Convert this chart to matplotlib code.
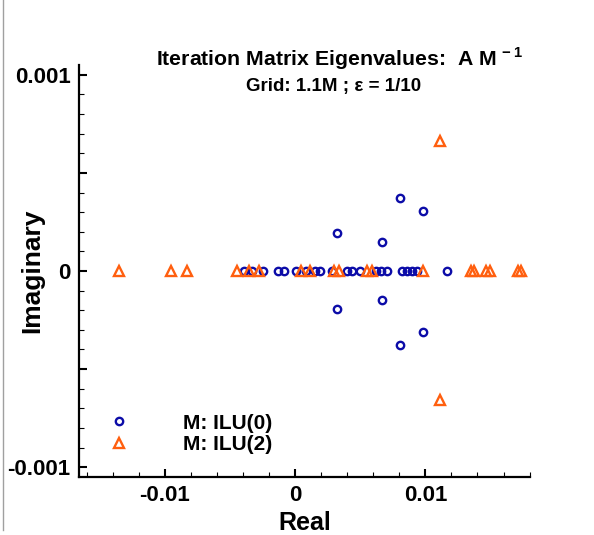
import matplotlib

matplotlib.use("Agg")
import matplotlib.pyplot as plt
from matplotlib.lines import Line2D
from matplotlib.ticker import FixedLocator, FuncFormatter, MultipleLocator

# eigenvalues of the iteration matrix
ilu0_real = [-0.00391, -0.00330, -0.00246, -0.00130, -0.00084, 0.00008, 0.00084,
             0.00154, 0.00192, 0.00284, 0.00399, 0.00437, 0.00499, 0.00622,
             0.00660, 0.00706, 0.00821, 0.00860, 0.00898, 0.00936, 0.01167,
             0.00322, 0.00322, 0.00665, 0.00665, 0.00806, 0.00806, 0.00985, 0.00985]
ilu0_imag = [0.0] * 21 + [0.000193, -0.000193, 0.000148, -0.000150,
                          0.000373, -0.000377, 0.000306, -0.000310]

ilu2_real = [-0.01351, -0.00952, -0.00829, -0.00445, -0.00353, -0.00276, 0.00046,
             0.00115, 0.00299, 0.00338, 0.00553, 0.00591, 0.00982, 0.01351,
             0.01374, 0.01466, 0.01497, 0.01711, 0.01734, 0.01113, 0.01113]
ilu2_imag = [0.0] * 19 + [0.000661, -0.000655]

series_labels = ["M: ILU(0)", "M: ILU(2)"]
x_ticks = [-0.01, 0.0, 0.01]
y_ticks = [-0.001, -0.0005, 0.0, 0.0005, 0.001]

BLUE = "#0C0CA8"
ORANGE = "#FF5F0F"
FONT = ["Liberation Sans", "DejaVu Sans"]

plt.rcParams["font.family"] = FONT
plt.rcParams["font.weight"] = "bold"
plt.rcParams["mathtext.fontset"] = "custom"
plt.rcParams["mathtext.rm"] = "Liberation Sans:bold"
plt.rcParams["mathtext.bf"] = "Liberation Sans:bold"

fig = plt.figure(figsize=(5.94, 5.35), dpi=100, facecolor="white")
ax = fig.add_axes([79 / 594, 1 - 477 / 535, 451 / 594, 412 / 535])

ax.plot(ilu0_real, ilu0_imag, linestyle="none", marker="o", markersize=5.3,
        markerfacecolor="none", markeredgecolor=BLUE, markeredgewidth=1.7, zorder=3)
ax.plot(ilu2_real, ilu2_imag, linestyle="none", marker="^", markersize=6.8,
        markerfacecolor="none", markeredgecolor=ORANGE, markeredgewidth=1.7, zorder=4)

ax.set_xlim(-0.01658, 0.01803)
ax.set_ylim(-0.00105, 0.00105)

for side in ("top", "right"):
    ax.spines[side].set_visible(False)
for side in ("left", "bottom"):
    ax.spines[side].set_linewidth(1.6)

ax.xaxis.set_major_locator(FixedLocator(x_ticks))
ax.xaxis.set_minor_locator(MultipleLocator(0.002))
ax.yaxis.set_major_locator(FixedLocator(y_ticks))
ax.yaxis.set_minor_locator(MultipleLocator(0.0001))


def fmt_x(v, pos):
    if abs(v) < 1e-12:
        return "0"
    return f"{v:g}"


def fmt_y(v, pos):
    if abs(v) < 1e-12:
        return "0"
    if abs(abs(v) - 0.001) < 1e-9:
        return f"{v:.3f}"
    return ""


ax.xaxis.set_major_formatter(FuncFormatter(fmt_x))
ax.yaxis.set_major_formatter(FuncFormatter(fmt_y))
ax.tick_params(which="major", direction="in", length=6, width=1.5, labelsize=16, pad=6)
ax.tick_params(which="minor", direction="in", length=3.5, width=0.8)
for lab in ax.get_xticklabels() + ax.get_yticklabels():
    lab.set_fontweight("bold")

ax.set_xlabel("Real", fontsize=18, fontweight="bold")
ax.set_ylabel("Imaginary", fontsize=19, fontweight="bold")
ax.xaxis.set_label_coords(0.5, -0.083)
ax.yaxis.set_label_coords(-0.078, 0.5)

fig.text(340 / 594, 1 - 59 / 535, r"Iteration Matrix Eigenvalues:  A M$^{\,-1}$",
         ha="center", va="center", fontsize=15.3, fontweight="bold")
fig.text(334 / 594, 1 - 87 / 535, "Grid: 1.1M ; \u03b5 = 1/10",
         ha="center", va="center", fontsize=13.5, fontweight="bold")

handles = [
    Line2D([], [], linestyle="none", marker="o", markersize=5.3, markerfacecolor="none",
           markeredgecolor=BLUE, markeredgewidth=1.7),
    Line2D([], [], linestyle="none", marker="^", markersize=6.8, markerfacecolor="none",
           markeredgecolor=ORANGE, markeredgewidth=1.7),
]
ax.legend(handles, series_labels, loc="lower left", bbox_to_anchor=(0.042, 0.031),
          frameon=False, prop={"family": FONT, "weight": "bold", "size": 15},
          handlelength=1.0, handletextpad=2.57, labelspacing=0.1, borderpad=0)

# thin gray frame line at the left edge of the picture
fig.add_artist(Line2D([3 / 594, 3 / 594], [0.01, 1.0], color="#A0A0A0", linewidth=1.0))

fig.savefig("out.png", dpi=100, facecolor="white")
